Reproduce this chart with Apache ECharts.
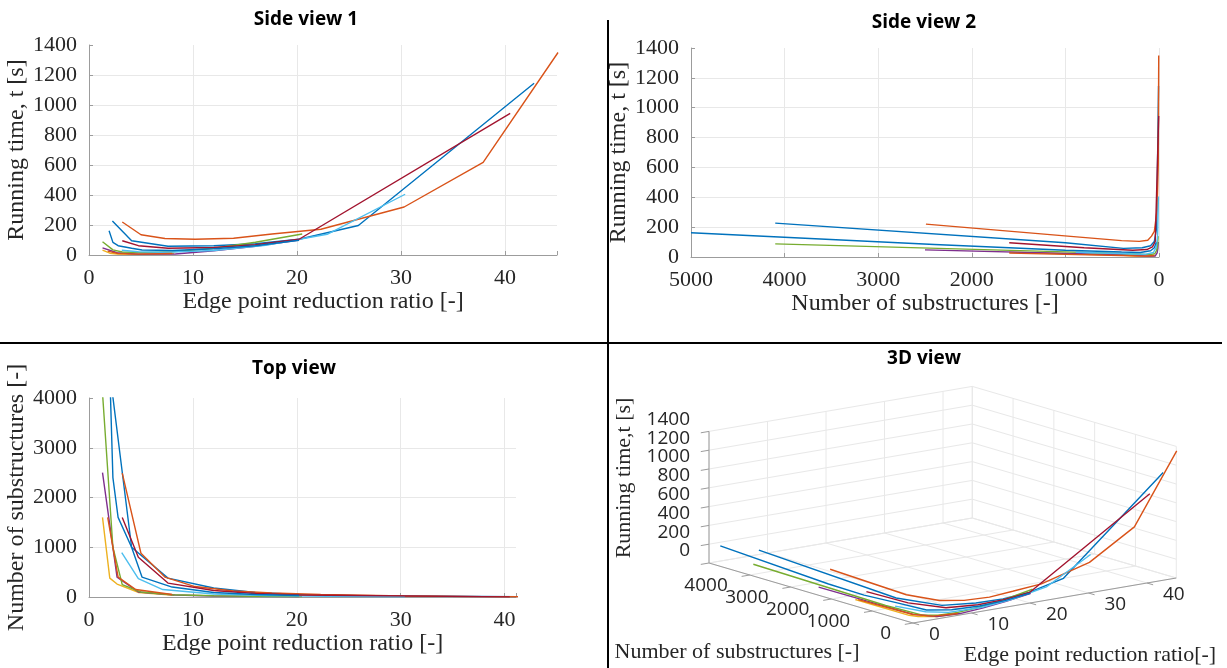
<!DOCTYPE html>
<html>
<head>
<meta charset="utf-8">
<script src="https://cdn.jsdelivr.net/npm/echarts@6/dist/echarts.min.js"></script>
<style>
html, body { margin: 0; padding: 0; background: #fff; }
#main { width: 1227px; height: 668px; }
</style>
</head>
<body>
<div id="main"></div>
<script>
// MATLAB default colour order, one per run
var runColors = ['#0072BD', '#D95319', '#EDB120', '#7E2F8E', '#77AC30', '#4DBEEE', '#A2142F', '#0072BD', '#D95319'];

// run 1 (blue)
var ratio1 = [2.25, 4.1, 7.6, 12, 16, 20.2, 25.9, 42.8];
var subs1  = [4100, 1000, 380, 180, 90, 50, 25, 5];
var time1  = [227, 95, 58, 62, 75, 105, 197, 1145];
// run 2 (orange)
var ratio2 = [3.2, 5.0, 7.3, 10.2, 13.9, 17.6, 22.3, 30.3, 37.9, 45.1];
var subs2  = [2490, 880, 400, 210, 120, 80, 50, 20, 8, 3];
var time2  = [220, 135, 110, 105, 112, 140, 172, 320, 618, 1350];
// run 3 (yellow)
var ratio3 = [1.3, 2.0, 2.7, 4.8, 8.2];
var subs3  = [1600, 380, 260, 90, 35];
var time3  = [32, 12, 6, 5, 9];
// run 4 (purple)
var ratio4 = [1.3, 2.7, 4.75, 8.3, 12, 16, 20.2];
var subs4  = [2500, 400, 100, 40, 20, 12, 8];
var time4  = [48, 15, 6, 7, 28, 58, 100];
// run 5 (green)
var ratio5 = [1.3, 2.3, 3.2, 5.0, 8.0, 12, 16, 20.5];
var subs5  = [4100, 1000, 250, 100, 45, 25, 15, 9];
var time5  = [88, 34, 20, 16, 22, 45, 85, 140];
// run 6 (light blue)
var ratio6 = [3.15, 4.75, 7.1, 12, 17, 22.9, 30.4];
var subs6  = [890, 370, 150, 60, 30, 15, 6];
var time6  = [32, 22, 18, 30, 65, 138, 405];
// run 7 (dark red)
var ratio7 = [3.2, 4.75, 7.6, 12, 16, 20.2, 40.5];
var subs7  = [1600, 800, 280, 130, 70, 40, 3];
var time7  = [95, 62, 45, 50, 68, 105, 944];
// run 8 (blue)
var ratio8 = [1.93, 2.3, 2.8, 4.1, 5.1, 8.0, 12, 16, 20.2];
var subs8  = [5000, 2400, 1600, 1000, 400, 200, 90, 50, 30];
var time8  = [162, 84, 62, 45, 33, 30, 42, 62, 98];
// run 9 (orange)
var ratio9 = [1.8, 2.8, 4.5, 8.0];
var subs9  = [1600, 400, 150, 50];
var time9  = [26, 10, 6, 10];

var ratioTicks = [0, 10, 20, 30, 40];
var subsTicks  = [0, 1000, 2000, 3000, 4000];
var timeTicks  = [0, 200, 400, 600, 800, 1000, 1200, 1400];

var runRatio = [ratio1, ratio2, ratio3, ratio4, ratio5, ratio6, ratio7, ratio8, ratio9];
var runSubs  = [subs1, subs2, subs3, subs4, subs5, subs6, subs7, subs8, subs9];
var runTime  = [time1, time2, time3, time4, time5, time6, time7, time8, time9];

// 3D view: limits of the box and the projection onto the page
var box3d = { r: 45, s: 5000, t: 1400 };
function proj(r, s, t) {
	return [5.85 * r - 0.0408 * s, 1.0 * r + 0.012 * s + 0.094 * t];
}

var serif = '"Liberation Serif", "Times New Roman", serif';
var sans3d = '"Open Sans", "Liberation Sans", sans-serif';
var textColor = '#262626';
var axisColor = '#9c9c9c';
var gridColor = '#e8e8e8';

function valueAxis(gridIndex, min, max, interval, name, nameGap, extra) {
	var ax = {
		type: 'value', gridIndex: gridIndex, min: min, max: max, interval: interval,
		name: name, nameLocation: 'middle', nameGap: nameGap,
		nameTextStyle: { fontFamily: serif, fontSize: 24, color: textColor },
		axisLine: { show: true, onZero: false, lineStyle: { color: axisColor, width: 1 } },
		axisTick: { show: true, inside: true, length: 4, lineStyle: { color: axisColor } },
		axisLabel: {
			fontFamily: serif, fontSize: 22, color: textColor, margin: 12,
			formatter: function (v) { return v % interval === 0 ? String(v) : ''; }
		},
		splitLine: { show: true, showMaxLine: false, lineStyle: { color: gridColor, width: 1 } }
	};
	for (var k in extra) ax[k] = extra[k];
	return ax;
}

// grid lines, axes and ticks of the 3D box, as segments in projected units
var segs3d = [];
function seg(p, q, isAxis) {
	var a = proj(p[0], p[1], p[2]), b = proj(q[0], q[1], q[2]);
	segs3d.push([a[0], a[1], b[0], b[1], isAxis ? 1 : 0]);
}
timeTicks.forEach(function (t) {
	seg([0, box3d.s, t], [box3d.r, box3d.s, t]);
	seg([box3d.r, 0, t], [box3d.r, box3d.s, t]);
});
ratioTicks.concat([box3d.r]).forEach(function (r) {
	seg([r, box3d.s, 0], [r, box3d.s, box3d.t]);
	seg([r, 0, 0], [r, box3d.s, 0]);
});
subsTicks.concat([box3d.s]).forEach(function (s) {
	seg([box3d.r, s, 0], [box3d.r, s, box3d.t]);
	seg([0, s, 0], [box3d.r, s, 0]);
});
seg([0, 0, 0], [0, box3d.s, 0], 1);
seg([0, 0, 0], [box3d.r, 0, 0], 1);
seg([0, box3d.s, 0], [0, box3d.s, box3d.t], 1);
timeTicks.forEach(function (t) { seg([0, box3d.s, t], [-1.4, box3d.s, t], 1); });
subsTicks.forEach(function (s) { seg([0, s, 0], [-1.4, s, 0], 1); });
ratioTicks.forEach(function (r) { seg([r, 0, 0], [r, -150, 0], 1); });

// tick labels of the 3D box
var labels3d = [];
timeTicks.forEach(function (t) {
	labels3d.push({ at: proj(0, box3d.s, t), text: String(t), align: 'right', dx: -19, dy: -12 });
});
subsTicks.forEach(function (s) {
	labels3d.push({ at: proj(0, s, 0), text: String(s), align: 'right', dx: -22, dy: 11 });
});
ratioTicks.forEach(function (r) {
	labels3d.push({ at: proj(r, 0, 0), text: String(r), align: 'left', dx: 16, dy: 12 });
});

var series = [];
series.push({
	type: 'custom', xAxisIndex: 3, yAxisIndex: 3, silent: true, z: 1,
	encode: { x: [0, 2], y: [1, 3] },
	data: segs3d,
	renderItem: function (params, api) {
		var a = api.coord([api.value(0), api.value(1)]);
		var b = api.coord([api.value(2), api.value(3)]);
		return {
			type: 'line',
			shape: { x1: a[0], y1: a[1], x2: b[0], y2: b[1] },
			style: { stroke: api.value(4) ? axisColor : gridColor, lineWidth: 1 }
		};
	}
});
series.push({
	type: 'custom', xAxisIndex: 3, yAxisIndex: 3, silent: true, z: 1,
	data: labels3d.map(function (l) { return l.at; }),
	renderItem: function (params, api) {
		var lab = labels3d[params.dataIndex];
		var p = api.coord(lab.at);
		return {
			type: 'text', x: p[0] + lab.dx, y: p[1] + lab.dy,
			style: { text: lab.text, fill: textColor, font: '19px ' + sans3d, align: lab.align, verticalAlign: 'middle' }
		};
	}
});

runRatio.forEach(function (ratio, i) {
	var subs = runSubs[i], time = runTime[i];
	var side1 = [], side2 = [], top = [], view3d = [];
	for (var k = 0; k < ratio.length; k++) {
		side1.push([ratio[k], time[k]]);
		side2.push([subs[k], time[k]]);
		top.push([ratio[k], subs[k]]);
		view3d.push(proj(ratio[k], subs[k], time[k]));
	}
	[side1, side2, top, view3d].forEach(function (d, g) {
		series.push({
			type: 'line', xAxisIndex: g, yAxisIndex: g, data: d,
			showSymbol: false, silent: true, z: 2,
			lineStyle: { color: runColors[i], width: 1.4 }
		});
	});
});

var chart = echarts.init(document.getElementById('main'));
var titleStyle = { fontFamily: '"Open Sans", sans-serif', fontWeight: 'bold', fontSize: 19, color: '#000' };
chart.setOption({
	animation: false,
	backgroundColor: '#fff',
	title: [
		{ text: 'Side view 1', left: 306, top: 10, textAlign: 'center', padding: 0, textStyle: titleStyle },
		{ text: 'Side view 2', left: 924, top: 13, textAlign: 'center', padding: 0, textStyle: titleStyle },
		{ text: 'Top view', left: 294, top: 359, textAlign: 'center', padding: 0, textStyle: titleStyle },
		{ text: '3D view', left: 924, top: 349, textAlign: 'center', padding: 0, textStyle: titleStyle }
	],
	grid: [
		{ left: 89, top: 45, width: 468, height: 210 },
		{ left: 691, top: 48, width: 468, height: 209 },
		{ left: 89, top: 398, width: 427, height: 199 },
		{ left: 610, top: 343, width: 617, height: 325 }
	],
	xAxis: [
		valueAxis(0, 0, 45, 10, 'Edge point reduction ratio [-]', 34, {}),
		valueAxis(1, 0, 5000, 1000, 'Number of substructures [-]', 34, { inverse: true }),
		valueAxis(2, 0, 41.1, 10, 'Edge point reduction ratio [-]', 33, {}),
		{ type: 'value', gridIndex: 3, min: -303, max: 314, show: false }
	],
	yAxis: [
		valueAxis(0, 0, 1400, 200, 'Running time, t [s]', 57, {}),
		valueAxis(1, 0, 1400, 200, 'Running time, t [s]', 57, {}),
		valueAxis(2, 0, 4000, 1000, 'Number of substructures [-]', 57, {}),
		{ type: 'value', gridIndex: 3, min: -45, max: 280, show: false }
	],
	graphic: [
		{ type: 'line', shape: { x1: 608, y1: 20, x2: 608, y2: 668 }, style: { stroke: '#000', lineWidth: 2 } },
		{ type: 'line', shape: { x1: 0, y1: 343, x2: 1222, y2: 343 }, style: { stroke: '#000', lineWidth: 2 } },
		{ type: 'text', x: 624, y: 478, rotation: Math.PI / 2,
		  style: { text: 'Running time,t [s]', font: '22px ' + serif, fill: textColor, align: 'center', verticalAlign: 'middle' } },
		{ type: 'text', x: 737, y: 652,
		  style: { text: 'Number of substructures [-]', font: '22px ' + serif, fill: textColor, align: 'center', verticalAlign: 'middle' } },
		{ type: 'text', x: 1090, y: 655,
		  style: { text: 'Edge point reduction ratio[-]', font: '22px ' + serif, fill: textColor, align: 'center', verticalAlign: 'middle' } }
	],
	series: series
});
</script>
</body>
</html>
